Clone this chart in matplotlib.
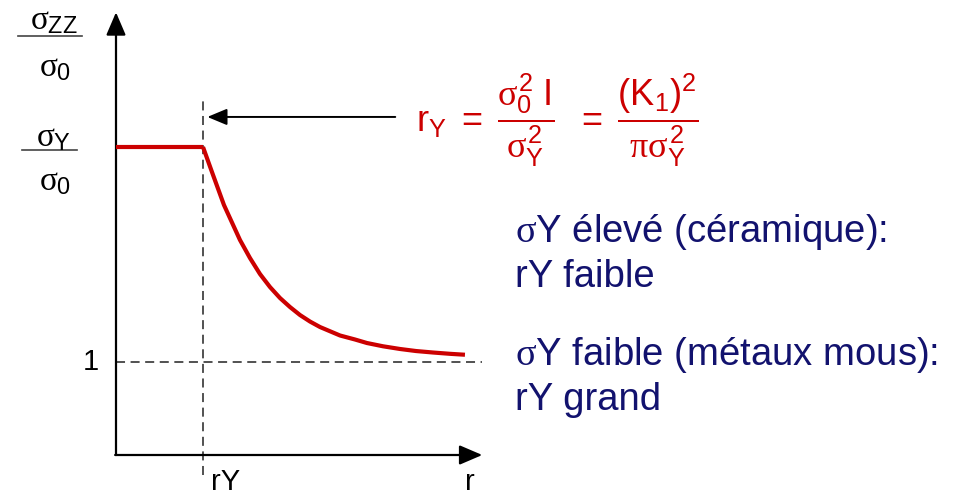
import matplotlib
matplotlib.use("Agg")
import matplotlib.pyplot as plt

plt.rcParams['font.family'] = ['Liberation Sans', 'DejaVu Sans']
plt.rcParams['mathtext.fontset'] = 'custom'
plt.rcParams['mathtext.rm'] = 'Liberation Serif'
plt.rcParams['mathtext.it'] = 'Liberation Serif'
plt.rcParams['mathtext.sf'] = 'Liberation Sans'
plt.rcParams['mathtext.bf'] = 'Liberation Sans:bold'
plt.rcParams['lines.scale_dashes'] = False

# ---- data (r in units of rY, stress in units of sigma_0) ----
r_flat = [0.0, 1.0]
s_flat = [3.31, 3.31]
r_curve = [1.000, 1.103, 1.241, 1.425, 1.540, 1.655, 1.770, 1.885, 2.000, 2.115,
           2.230, 2.345, 2.575, 2.747, 2.885, 3.069, 3.264, 3.448, 3.644, 3.839, 4.011]
s_curve = [3.312, 3.043, 2.688, 2.312, 2.118, 1.946, 1.806, 1.688, 1.591, 1.505,
           1.435, 1.376, 1.285, 1.242, 1.204, 1.169, 1.140, 1.118, 1.102, 1.088, 1.078]
r_Y = 1.0
s_one = 1.0
r_axis_max = 4.21
s_axis_max = 4.76
y_tick_label = "1"
x_tick_label = "rY"
x_axis_label = "r"
notes = ["σY élevé (céramique):", "rY faible",
         "σY faible (métaux mous):", "rY grand"]

W, H = 958, 495
fig = plt.figure(figsize=(W / 100, H / 100), dpi=100)
ax = fig.add_axes([0, 0, 1, 1])
ox, oy, sx, sy = 116, 455, 87, 93
ax.set_xlim(-ox / sx, (W - ox) / sx)
ax.set_ylim((oy - H) / sy, oy / sy)
ax.axis('off')


def P(x, y):
    return (x / W, 1 - y / H)


RED = '#CC0000'
BLUE = '#12126E'
DASH = '#333333'

# axes with arrows
ax.annotate('', xy=(0, s_axis_max), xytext=(0, 0),
            arrowprops=dict(arrowstyle='-|>,head_length=0.7,head_width=0.3',
                            lw=1.6, color='black', shrinkA=0, shrinkB=0,
                            mutation_scale=20))
ax.annotate('', xy=(r_axis_max, 0), xytext=(-0.01, 0),
            arrowprops=dict(arrowstyle='-|>,head_length=0.7,head_width=0.3',
                            lw=1.6, color='black', shrinkA=0, shrinkB=0,
                            mutation_scale=20))

# dashed guides
ax.plot([r_Y, r_Y], [-0.215, 3.82], color=DASH, lw=1.2, ls=(0, (6.5, 4.0)))
ax.plot([0, r_axis_max], [s_one, s_one], color=DASH, lw=1.2, ls=(0, (6.5, 4.0)))

# red curve
ax.plot(r_flat, s_flat, color=RED, lw=3, solid_capstyle='butt', zorder=5)
ax.plot(r_curve, s_curve, color=RED, lw=3, solid_capstyle='butt',
        solid_joinstyle='round', zorder=5)

# pointer arrow to rY
ax.annotate('', xy=(1.05, 3.635), xytext=(3.21, 3.635),
            arrowprops=dict(arrowstyle='-|>,head_length=0.6,head_width=0.25',
                            lw=1.4, color='black', shrinkA=0, shrinkB=0,
                            mutation_scale=20))

# axis labels
ax.text(-0.2, s_one, y_tick_label, ha='right', va='center', fontsize=21)
fig.text(*P(211, 490), x_tick_label, ha='left', va='baseline', fontsize=21)
fig.text(*P(465, 490), x_axis_label, ha='left', va='baseline', fontsize=21)

# left fraction labels
fig.text(*P(54, 29), r'$\sigma_{\mathsf{ZZ}}$', ha='center', va='baseline', fontsize=24)
fig.add_artist(plt.Line2D([18 / W, 82 / W], [1 - 36 / H, 1 - 36 / H], color='#444444', lw=1.2))
fig.text(*P(55, 76), r'$\sigma_{\mathsf{0}}$', ha='center', va='baseline', fontsize=24)

fig.text(*P(54, 146), r'$\sigma_{\mathsf{Y}}$', ha='center', va='baseline', fontsize=24)
fig.add_artist(plt.Line2D([22 / W, 77 / W], [1 - 150 / H, 1 - 150 / H], color='#444444', lw=1.2))
fig.text(*P(55, 190), r'$\sigma_{\mathsf{0}}$', ha='center', va='baseline', fontsize=24)

# formula
formula = (r'$\mathsf{r_Y}\ \mathsf{=}\ \dfrac{\sigma_\mathsf{0}^\mathsf{2}\ \mathsf{I}}'
           r'{\sigma_\mathsf{Y}^\mathsf{2}}\ \ \mathsf{=}\ \dfrac{\mathsf{(K_1)^2}}'
           r'{\pi\sigma_\mathsf{Y}^\mathsf{2}}$')
fig.text(*P(416, 120), formula, ha='left', va='center', fontsize=26, color=RED)

# blue notes
baselines = [242, 287, 365, 410]
for t, b in zip(notes, baselines):
    fig.text(*P(515, b), t.replace('σ', r'$\sigma$'), ha='left', va='baseline',
             fontsize=27.5, color=BLUE)

fig.savefig('out.png', dpi=100)
